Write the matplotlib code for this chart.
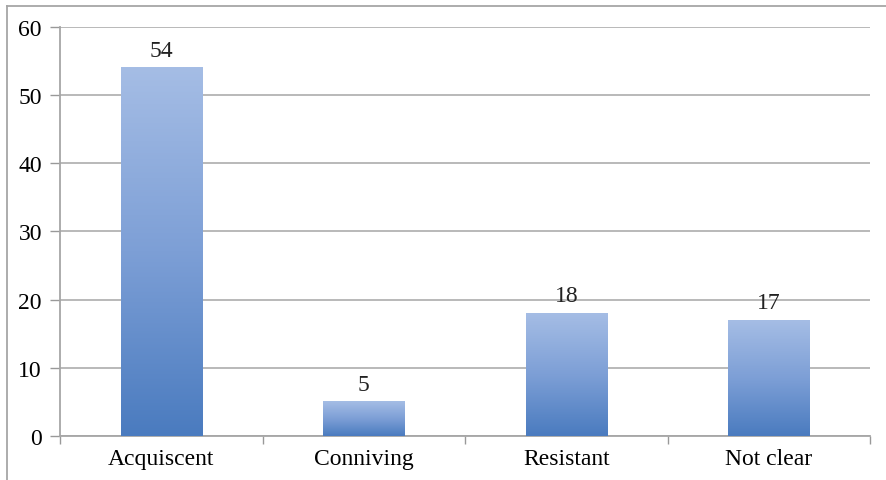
import numpy as np
import matplotlib.pyplot as plt
from matplotlib.colors import LinearSegmentedColormap
from matplotlib.lines import Line2D

categories = ["Acquiscent", "Conniving", "Resistant", "Not clear"]
counts = [54, 5, 18, 17]
yticks = [0, 10, 20, 30, 40, 50, 60]

plt.rcParams['font.family'] = ['Liberation Serif', 'DejaVu Serif']

fig = plt.figure(figsize=(8.87, 4.81), dpi=100)
ax = fig.add_axes([0.0676, 0.0915, 0.9134, 0.8503])

grad = LinearSegmentedColormap.from_list("bar", ["#4a7bbf", "#7d9fd6", "#a5bde5"])
x = np.arange(len(categories))
width = 0.40

# gradient bars: each bar gets the full light-to-dark ramp over its own height
ramp = np.linspace(0, 1, 256).reshape(-1, 1)
for xi, v in zip(x, counts):
    ax.imshow(ramp, cmap=grad, origin="lower", aspect="auto",
              extent=[xi - width / 2, xi + width / 2, 0, v], zorder=3)
    ax.annotate(str(v), (xi, v), xytext=(0, 5), textcoords="offset points",
                ha="center", va="bottom", fontsize=17, color="#222222")

ax.set_xlim(-0.5, len(categories) - 0.5)
ax.set_ylim(0, 60)
ax.set_yticks(yticks)
ax.set_yticklabels([str(t) for t in yticks], fontsize=17)
ax.yaxis.grid(True, color="#b3b3b3", linewidth=1.3, zorder=0)
ax.set_axisbelow(True)

# category labels between the boundary tick marks
ax.set_xticks(x)
ax.set_xticklabels(categories, fontsize=17)
ax.tick_params(axis="x", length=0, pad=9)
ax.set_xticks(np.arange(len(categories) + 1) - 0.5, minor=True)
ax.tick_params(axis="x", which="minor", length=6, color="#999999", width=1)
ax.tick_params(axis="y", length=7, color="#999999", width=1, pad=6)

for s in ["top", "right"]:
    ax.spines[s].set_visible(False)
for s in ["left", "bottom"]:
    ax.spines[s].set_color("#a6a6a6")
    ax.spines[s].set_linewidth(1.3)

# outer chart frame (left and top edges)
fig.add_artist(Line2D([0.008, 0.008], [0, 0.986], transform=fig.transFigure,
                      color="#a6a6a6", linewidth=1.3))
fig.add_artist(Line2D([0.008, 1.0], [0.986, 0.986], transform=fig.transFigure,
                      color="#a6a6a6", linewidth=1.3))

fig.savefig("out.png", dpi=100)
